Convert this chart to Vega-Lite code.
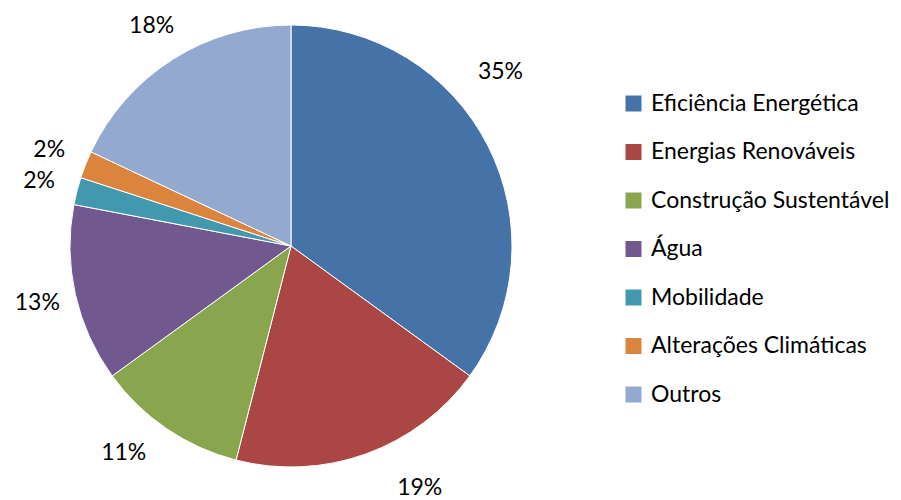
{
  "$schema": "https://vega.github.io/schema/vega-lite/v6.json",
  "width": 582,
  "height": 492,
  "padding": {"left": 0, "top": 0, "right": 319, "bottom": 8},
  "autosize": {"type": "none"},
  "background": "white",
  "config": {"view": {"stroke": null}, "font": "Lato"},
  "data": {"values": [
    {"cat": "Eficiência Energética", "val": 35, "ord": 1, "lbl": "35%"},
    {"cat": "Energias Renováveis", "val": 19, "ord": 2, "lbl": "19%"},
    {"cat": "Construção Sustentável", "val": 11, "ord": 3, "lbl": "11%"},
    {"cat": "Água", "val": 13, "ord": 4, "lbl": "13%"},
    {"cat": "Mobilidade", "val": 2, "ord": 5, "lbl": "2%"},
    {"cat": "Alterações Climáticas", "val": 2, "ord": 6, "lbl": "2%"},
    {"cat": "Outros", "val": 18, "ord": 7, "lbl": "18%"}
  ]},
  "encoding": {
    "theta": {"field": "val", "type": "quantitative", "stack": true},
    "order": {"field": "ord", "type": "quantitative"},
    "color": {
      "field": "cat", "type": "nominal",
      "sort": ["Eficiência Energética", "Energias Renováveis", "Construção Sustentável", "Água", "Mobilidade", "Alterações Climáticas", "Outros"],
      "scale": {
        "domain": ["Eficiência Energética", "Energias Renováveis", "Construção Sustentável", "Água", "Mobilidade", "Alterações Climáticas", "Outros"],
        "range": ["#4572A7", "#AA4643", "#89A54E", "#71588F", "#4198AF", "#DB843D", "#93A9CF"]
      },
      "legend": {
        "title": null,
        "orient": "none",
        "legendX": 622,
        "legendY": 92,
        "symbolType": "square",
        "symbolSize": 256,
        "symbolStrokeWidth": 0,
        "labelFontSize": 23,
        "labelFont": "Lato",
        "labelColor": "#000000",
        "labelOffset": 6,
        "rowPadding": 24.5,
        "labelLimit": 400
      }
    }
  },
  "layer": [
    {"mark": {"type": "arc", "outerRadius": 221, "stroke": "white", "strokeWidth": 1}},
    {
      "mark": {"type": "text", "radius": 260, "fontSize": 23, "font": "Lato", "color": "#000000"},
      "encoding": {"text": {"condition": {"test": "datum.ord >= 4", "field": "lbl"}, "value": ""}, "color": {"value": "#000000"}}
    },
    {
      "mark": {"type": "text", "radius": 262, "dx": -24, "dy": -55, "fontSize": 23, "font": "Lato", "color": "#000000"},
      "encoding": {"text": {"condition": {"test": "datum.ord == 1", "field": "lbl"}, "value": ""}, "color": {"value": "#000000"}}
    },
    {
      "mark": {"type": "text", "radius": 262, "dx": 40, "dy": -5, "fontSize": 23, "font": "Lato", "color": "#000000"},
      "encoding": {"text": {"condition": {"test": "datum.ord == 2", "field": "lbl"}, "value": ""}, "color": {"value": "#000000"}}
    },
    {
      "mark": {"type": "text", "radius": 262, "dx": -20, "dy": -10, "fontSize": 23, "font": "Lato", "color": "#000000"},
      "encoding": {"text": {"condition": {"test": "datum.ord == 3", "field": "lbl"}, "value": ""}, "color": {"value": "#000000"}}
    }
  ]
}
